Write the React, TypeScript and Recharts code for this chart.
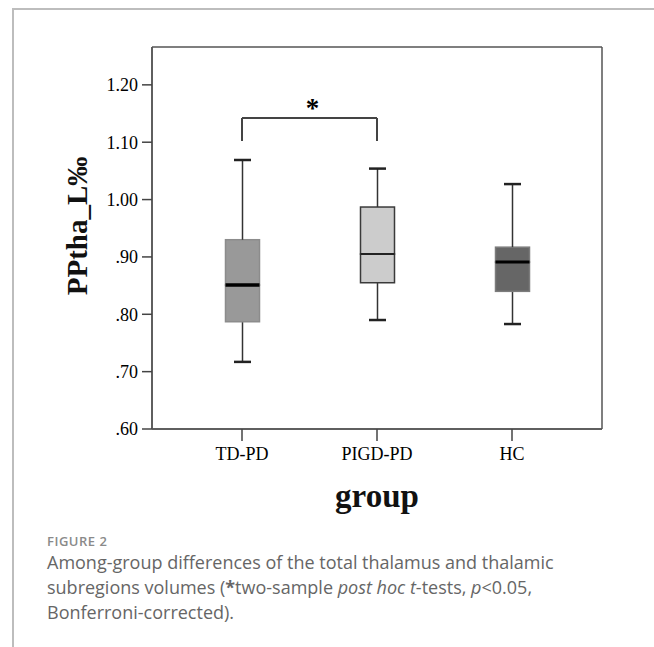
import React from "react";
import {
  ComposedChart,
  Bar,
  XAxis,
  YAxis,
  CartesianGrid,
  ReferenceLine,
  Label,
} from "recharts";

// values
const groups = ["TD-PD", "PIGD-PD", "HC"];
const lowerWhisker = [0.717, 0.79, 0.783];
const lowerQuartile = [0.787, 0.855, 0.84];
const medians = [0.851, 0.905, 0.891];
const upperQuartile = [0.93, 0.987, 0.917];
const upperWhisker = [1.069, 1.054, 1.027];

const yTicks = [0.6, 0.7, 0.8, 0.9, 1.0, 1.1, 1.2];
const yDomain = [0.6, 1.266];
const bracketLevel = 1.142;
const bracketFoot = 1.102;

// styling per group
const boxFill = ["#999999", "#cccccc", "#666666"];
const boxStroke = ["#8c8c8c", "#3a3a3a", "#7c7c7c"];
const medianStroke = ["#000000", "#222222", "#000000"];
const medianWidth = [3.5, 2, 3];

const serif = "'Liberation Serif', 'Times New Roman', serif";
const sans = "'Open Sans', 'Noto Sans', sans-serif";

const data = groups.map((group, i) => ({
  group,
  base: lowerWhisker[i],
  lowWhisker: lowerQuartile[i] - lowerWhisker[i],
  lowBox: medians[i] - lowerQuartile[i],
  highBox: upperQuartile[i] - medians[i],
  highWhisker: upperWhisker[i] - upperQuartile[i],
}));

const formatTick = (v: number) =>
  v < 1 ? v.toFixed(2).slice(1) : v.toFixed(2);

const Empty = () => <g />;

const Whisker = (props: any, capAtTop: boolean) => {
  const { x, y, width, height } = props;
  const cx = x + width / 2;
  const capY = capAtTop ? y : y + height;
  const capHalf = width / 4;
  return (
    <g>
      <line x1={cx} x2={cx} y1={y} y2={y + height} stroke="#333" strokeWidth={1.5} />
      <line
        x1={cx - capHalf}
        x2={cx + capHalf}
        y1={capY}
        y2={capY}
        stroke="#222"
        strokeWidth={2.5}
      />
    </g>
  );
};

const BoxHalf = (props: any, withMedian: boolean) => {
  const { x, y, width, height, index } = props;
  const my = y + height;
  return (
    <g>
      <rect
        x={x}
        y={y}
        width={width}
        height={height}
        fill={boxFill[index]}
        stroke={boxStroke[index]}
        strokeWidth={1.5}
      />
      {withMedian && (
        <line
          x1={x}
          x2={x + width}
          y1={my}
          y2={my}
          stroke={medianStroke[index]}
          strokeWidth={medianWidth[index]}
        />
      )}
    </g>
  );
};

// frame lines on the edges of the plot area
const frameX = ({ offset }: any) => [offset.left, offset.left + offset.width];
const frameY = ({ offset }: any) => [offset.top, offset.top + offset.height];

export default function App() {
  return (
    <div
      style={{
        position: "absolute",
        left: 0,
        top: 0,
        width: 654,
        height: 647,
        background: "#fff",
        overflow: "hidden",
      }}
    >
      <div
        style={{
          position: "absolute",
          left: 12,
          top: 8,
          right: -4,
          bottom: -4,
          borderTop: "2px solid #bdbdbd",
          borderLeft: "2px solid #bdbdbd",
        }}
      />
      <div style={{ position: "absolute", left: 0, top: 0 }}>
        <ComposedChart
          width={654}
          height={647}
          data={data}
          margin={{ top: 47, right: 52, left: 0, bottom: 0 }}
          barSize={34}
        >
          <CartesianGrid
            stroke="#555"
            strokeWidth={1.5}
            verticalCoordinatesGenerator={frameX}
            horizontalCoordinatesGenerator={frameY}
          />
          <XAxis
            dataKey="group"
            type="category"
            height={218}
            padding={{ left: 22.5, right: 22.5 }}
            axisLine={{ stroke: "#555", strokeWidth: 1.5 }}
            tickLine={{ stroke: "#444", strokeWidth: 1.5 }}
            tickSize={12}
            tickMargin={6}
            tick={{ fill: "#000", fontSize: 18, fontFamily: serif }}
            interval={0}
          >
            <Label
              value="group"
              position="insideTop"
              offset={55}
              style={{
                fontSize: 33,
                fontWeight: 700,
                fontFamily: serif,
                fill: "#111",
              }}
            />
          </XAxis>
          <YAxis
            type="number"
            width={152}
            domain={yDomain}
            allowDataOverflow
            ticks={yTicks}
            tickFormatter={formatTick}
            axisLine={{ stroke: "#555", strokeWidth: 1.5 }}
            tickLine={{ stroke: "#444", strokeWidth: 1.5 }}
            tickSize={10}
            tickMargin={4}
            tick={{ fill: "#000", fontSize: 18, fontFamily: serif }}
          >
            <Label
              value="PPtha_L‰"
              position="center"
              angle={-90}
              dx={1}
              dy={-12}
              style={{
                fontSize: 29,
                fontWeight: 700,
                fontFamily: serif,
                fill: "#111",
                textAnchor: "middle",
              }}
            />
          </YAxis>
          <Bar dataKey="base" stackId="box" shape={Empty} isAnimationActive={false} />
          <Bar
            dataKey="lowWhisker"
            stackId="box"
            shape={(p: any) => Whisker(p, false)}
            isAnimationActive={false}
          />
          <Bar
            dataKey="lowBox"
            stackId="box"
            shape={(p: any) => BoxHalf(p, false)}
            isAnimationActive={false}
          />
          <Bar
            dataKey="highBox"
            stackId="box"
            shape={(p: any) => BoxHalf(p, true)}
            isAnimationActive={false}
          />
          <Bar
            dataKey="highWhisker"
            stackId="box"
            shape={(p: any) => Whisker(p, true)}
            isAnimationActive={false}
          />
          <ReferenceLine
            segment={[
              { x: groups[0], y: bracketLevel },
              { x: groups[1], y: bracketLevel },
            ]}
            stroke="#444"
            strokeWidth={2}
            ifOverflow="visible"
          >
            <Label
              value="*"
              position="top"
              offset={1}
              dx={3}
              style={{
                fontSize: 27,
                fontWeight: 700,
                fontFamily: serif,
                fill: "#000",
              }}
            />
          </ReferenceLine>
          <ReferenceLine
            segment={[
              { x: groups[0], y: bracketLevel },
              { x: groups[0], y: bracketFoot },
            ]}
            stroke="#444"
            strokeWidth={2}
            ifOverflow="visible"
          />
          <ReferenceLine
            segment={[
              { x: groups[1], y: bracketLevel },
              { x: groups[1], y: bracketFoot },
            ]}
            stroke="#444"
            strokeWidth={2}
            ifOverflow="visible"
          />
        </ComposedChart>
      </div>
      <div
        style={{
          position: "absolute",
          left: 47,
          top: 535,
          fontFamily: sans,
          fontSize: 13,
          lineHeight: "12px",
          fontWeight: 600,
          letterSpacing: 0.5,
          color: "#8a8a8a",
          whiteSpace: "nowrap",
        }}
      >
        FIGURE 2
      </div>
      <div
        style={{
          position: "absolute",
          left: 47,
          top: 550,
          fontFamily: sans,
          fontSize: 18,
          lineHeight: "25px",
          color: "#666",
          whiteSpace: "nowrap",
        }}
      >
        <div>Among-group differences of the total thalamus and thalamic</div>
        <div>
          subregions volumes (<b>*</b>two-sample <i>post hoc</i> <i>t</i>-tests,{" "}
          <i>p</i>&lt;0.05,
        </div>
        <div>Bonferroni-corrected).</div>
      </div>
    </div>
  );
}
